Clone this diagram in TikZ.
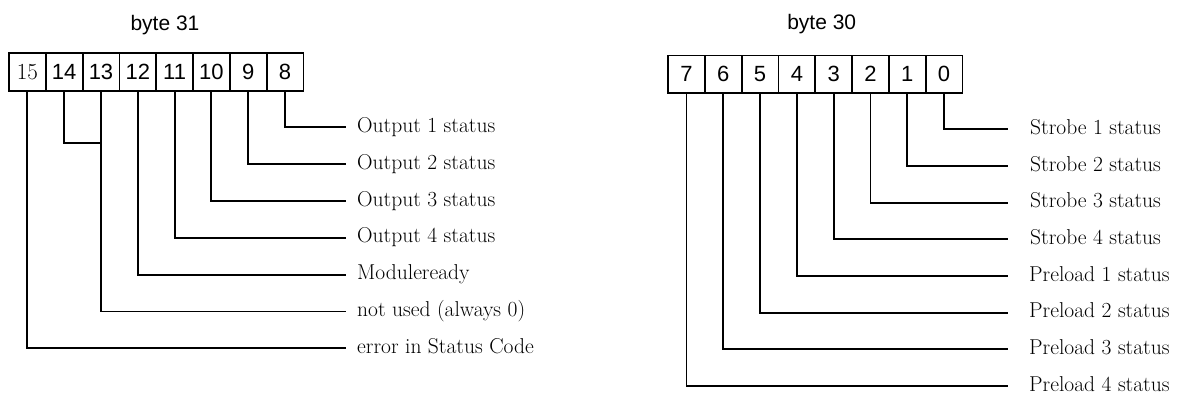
\documentclass[tikz,border=0pt]{standalone}
\usepackage{fontspec}
\setsansfont{Liberation Sans}
\usetikzlibrary{positioning}

\tikzset{
  bitcell/.style={draw, line width=1.8pt, outer sep=0pt, inner sep=0pt,
    minimum width=36.8pt, minimum height=37.2pt,
    font=\sffamily\fontsize{22}{22}\selectfont},
  bitlabel/.style={anchor=west, inner ysep=0pt, inner xsep=11pt,
    text height=14pt, text depth=4pt, font=\fontsize{21.5}{25}\selectfont},
  farlabel/.style={bitlabel, inner xsep=22pt},
  wire/.style={line width=1.9pt},
}

\begin{document}
\begin{tikzpicture}[x=1pt,y=-1pt]
    \useasboundingbox (0,0) rectangle (1186,396);

    % byte 31
    \node[font=\sffamily\fontsize{21}{21}\selectfont] (byte31) at (165,25) {byte 31};
    \node[bitcell, font=\rmfamily\fontsize{23}{23}\selectfont] (b15) at (27.4,72) {15};
    \node[bitcell, right=0pt of b15] (b14) {14};
    \node[bitcell, right=0pt of b14] (b13) {13};
    \node[bitcell, right=0pt of b13] (b12) {12};
    \node[bitcell, right=0pt of b12] (b11) {11};
    \node[bitcell, right=0pt of b11] (b10) {10};
    \node[bitcell, right=0pt of b10] (b9) {9};
    \node[bitcell, right=0pt of b9] (b8) {8};

    \node[bitlabel] (l8) at (346,127.3) {Output 1 status};
    \node[bitlabel] (l9) at (346,164.2) {Output 2 status};
    \node[bitlabel] (l10) at (346,201) {Output 3 status};
    \node[bitlabel] (l11) at (346,237.8) {Output 4 status};
    \node[bitlabel] (l12) at (346,274.7) {Moduleready};
    \node[bitlabel] (l13) at (346,311.5) {not used (always 0)};
    \node[bitlabel] (l15) at (346,348.3) {error in Status Code};

    \draw[wire] (b8.south) |- (l8.west);
    \draw[wire] (b9.south) |- (l9.west);
    \draw[wire] (b10.south) |- (l10.west);
    \draw[wire] (b11.south) |- (l11.west);
    \draw[wire] (b12.south) |- (l12.west);
    \draw[wire] (b13.south) |- (l13.west);
    \draw[wire] (b15.south) |- (l15.west);
    \coordinate (j14) at (b13.south |- 0,143.3);
    \draw[wire] (b14.south) |- (j14);

    % byte 30
    \node[font=\sffamily\fontsize{21}{21}\selectfont] (byte30) at (821.7,24.3) {byte 30};
    \node[bitcell] (b7) at (686.5,74.2) {7};
    \node[bitcell, right=0pt of b7] (b6) {6};
    \node[bitcell, right=0pt of b6] (b5) {5};
    \node[bitcell, right=0pt of b5] (b4) {4};
    \node[bitcell, right=0pt of b4] (b3) {3};
    \node[bitcell, right=0pt of b3] (b2) {2};
    \node[bitcell, right=0pt of b2] (b1) {1};
    \node[bitcell, right=0pt of b1] (b0) {0};

    \node[farlabel] (l0) at (1008,129.3) {Strobe 1 status};
    \node[farlabel] (l1) at (1008,166) {Strobe 2 status};
    \node[farlabel] (l2) at (1008,202.6) {Strobe 3 status};
    \node[farlabel] (l3) at (1008,239.3) {Strobe 4 status};
    \node[farlabel, inner xsep=21pt] (l4) at (1008,276) {Preload 1 status};
    \node[farlabel, inner xsep=21pt] (l5) at (1008,312.7) {Preload 2 status};
    \node[farlabel, inner xsep=21pt] (l6) at (1008,349.3) {Preload 3 status};
    \node[farlabel, inner xsep=21pt] (l7) at (1008,386) {Preload 4 status};

    \draw[wire] (b0.south) |- (l0.west);
    \draw[wire] (b1.south) |- (l1.west);
    \draw[wire] (b2.south) |- (l2.west);
    \draw[wire] (b3.south) |- (l3.west);
    \draw[wire] (b4.south) |- (l4.west);
    \draw[wire] (b5.south) |- (l5.west);
    \draw[wire] (b6.south) |- (l6.west);
    \draw[wire] (b7.south) |- (l7.west);
\end{tikzpicture}
\end{document}
